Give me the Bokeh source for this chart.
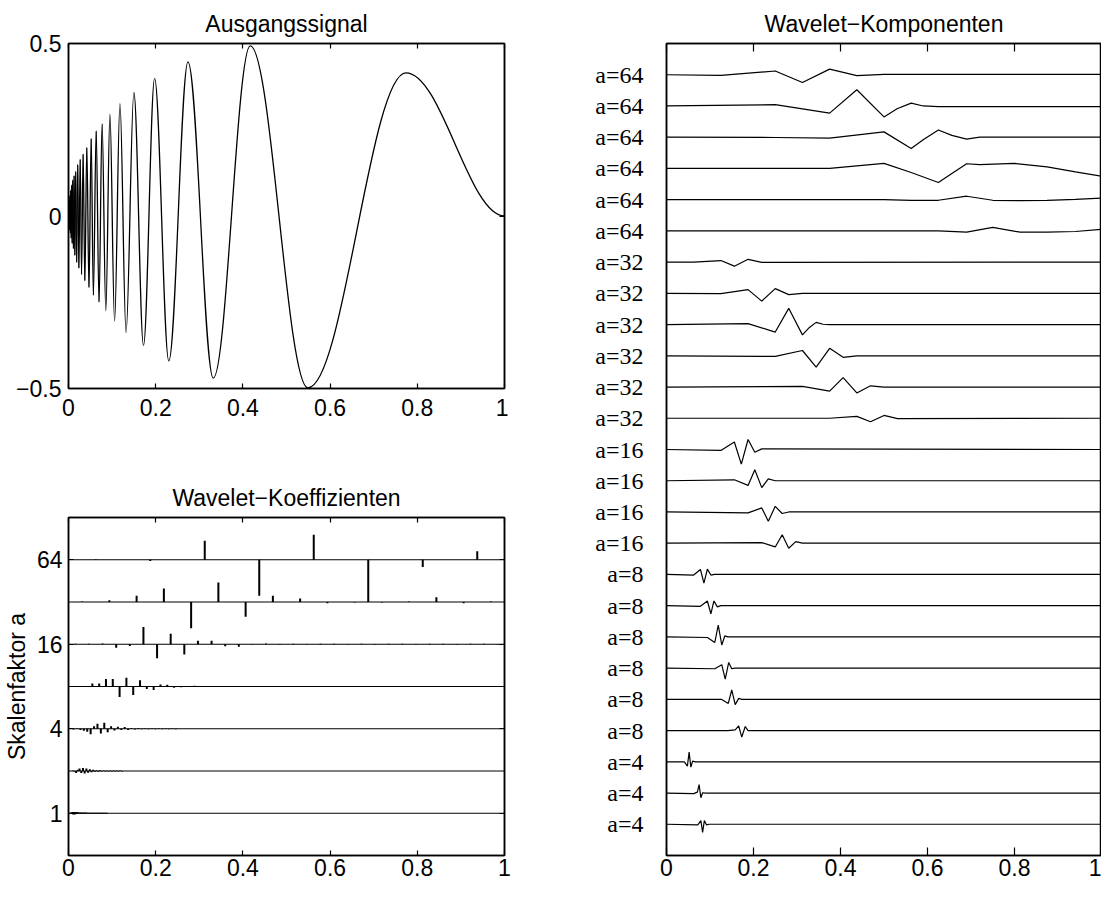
import numpy as np
from bokeh.plotting import figure
from bokeh.models import Range1d, FixedTicker, LinearAxis, ColumnDataSource
from bokeh.layouts import row, column
from bokeh.embed import file_html
from bokeh.resources import INLINE

SANS = "Liberation Sans"
SERIF = "Liberation Serif"
FS = "23px"
FS_SERIF = "24px"

# ---------------- data: Ausgangssignal (extrema of the chirp) ----
chirp_ext_x = [0.0, 0.0009, 0.0014, 0.0020, 0.0027, 0.0034, 0.0042, 0.0051, 0.0061,
               0.0072, 0.0084, 0.0097, 0.0112, 0.0128, 0.0146, 0.0166, 0.0188, 0.0212,
               0.0238, 0.0268, 0.0300, 0.0335, 0.0375, 0.0420, 0.0470, 0.0520, 0.0570,
               0.0635, 0.0700, 0.0770, 0.0856, 0.0950, 0.1057, 0.1180, 0.1320, 0.1500,
               0.1720, 0.1975, 0.2300, 0.2740, 0.3320, 0.4170, 0.5490, 0.7740, 1.0]
chirp_ext_y = [0.0, 0.030, -0.030, 0.045, -0.040, 0.060, -0.050, 0.075, -0.065,
               0.090, -0.080, 0.105, -0.095, 0.118, -0.115, 0.130, -0.135, 0.150,
               -0.152, 0.165, -0.170, 0.180, -0.188, 0.199, -0.208, 0.225, -0.230,
               0.247, -0.250, 0.268, -0.275, 0.295, -0.305, 0.326, -0.338, 0.358,
               -0.375, 0.399, -0.420, 0.447, -0.470, 0.493, -0.498, 0.415, 0.0]

# ---------------- data: Wavelet-Koeffizienten (stem values, in row units) ----------
coef_scales = [1, 2, 4, 8, 16, 32, 64]
coef_counts = [512, 256, 128, 64, 32, 16, 8]
coef_a64 = [0.01, -0.03, 0.45, -0.85, 0.59, -1.00, -0.17, 0.20]
coef_a32 = [0.01, 0.04, 0.15, 0.32, -0.62, 0.46, -0.35, 0.15, 0.08, -0.03, -0.01,
            -0.01, 0.01, 0.11, -0.03, 0.01]
coef_a16 = [0.01, 0.01, 0.02, -0.08, -0.04, 0.41, -0.33, 0.25, -0.24, 0.08, 0.08,
            -0.05, -0.06, -0.01, 0.02, -0.01, 0.01, -0.01, 0.01, 0.01, -0.01, 0.01,
            -0.01, 0.01, 0.01, -0.01, 0.01, 0.01, -0.01, 0.01, 0.01, -0.01]
coef_a8 = [0.0, 0.01, 0.01, 0.07, 0.07, 0.18, 0.18, -0.25, 0.21, -0.20, 0.15, -0.06,
           -0.08, 0.05, 0.04, -0.03, -0.02, 0.01, 0.015, 0.01, 0.01, -0.01, 0.01,
           0.01, -0.01]
coef_a4 = [0.0, -0.02, 0.01, -0.03, -0.05, -0.07, -0.13, 0.06, 0.12, -0.11, 0.14,
           -0.08, 0.06, -0.04, 0.05, -0.03, 0.04, -0.03, 0.02, -0.02, 0.02, -0.01,
           0.01, -0.01, 0.01, -0.01, 0.01, -0.01, 0.01, -0.01, 0.01, -0.01]
coef_a2 = [0.0, 0.0, 0.01, -0.02, -0.05, 0.03, 0.06, -0.05, 0.07, -0.06, 0.06, -0.04,
           0.04, -0.03, 0.03, -0.02, 0.02, -0.02, 0.02, -0.01, 0.01, -0.01, 0.01,
           -0.01, 0.01, -0.01, 0.01, -0.01, 0.01, -0.01, 0.01, -0.01]
coef_a1 = [0.0, 0.0, 0.02, -0.02, 0.03, -0.03, 0.03, -0.03, 0.03, -0.02, 0.03, -0.02,
           0.02, -0.02, 0.02, -0.02, 0.02, -0.02, 0.02, -0.01, 0.02, -0.01, 0.01,
           -0.01, 0.01, -0.01, 0.01, -0.01, 0.01, -0.01, 0.01, -0.01, 0.01, -0.01,
           0.01, -0.01, 0.01, -0.01, 0.01, -0.01, 0.01, -0.01, 0.01, -0.01, 0.01, -0.01]
coef_rows = [coef_a1, coef_a2, coef_a4, coef_a8, coef_a16, coef_a32, coef_a64]
coef_tick_labels = ["1", "4", "16", "64"]

# ---------------- data: Wavelet-Komponenten (polyline nodes, top to bottom) ----------
comp_a64 = [
    ([0, 0.125, 0.25, 0.3125, 0.375, 0.4375, 0.5, 1.0],
     [0, -0.02, 0.12, -0.25, 0.18, -0.03, 0.01, 0.01]),
    ([0, 0.25, 0.375, 0.4375, 0.5, 0.53, 0.5625, 0.59, 0.625, 1.0],
     [0, 0.04, -0.23, 0.52, -0.35, -0.09, 0.09, 0.0, -0.02, -0.02]),
    ([0, 0.25, 0.375, 0.5, 0.5625, 0.59, 0.625, 0.656, 0.69, 0.72, 1.0],
     [0, -0.01, -0.03, 0.17, -0.36, -0.08, 0.23, 0.06, -0.06, 0.0, 0.0]),
    ([0, 0.375, 0.5, 0.5625, 0.625, 0.656, 0.69, 0.72, 0.8, 0.875, 0.94, 1.0],
     [0, 0, 0.16, -0.13, -0.45, -0.16, 0.15, 0.12, 0.16, 0.05, -0.11, -0.25]),
    ([0, 0.5, 0.5625, 0.625, 0.69, 0.75, 0.8125, 0.875, 0.94, 1.0],
     [0, 0, -0.02, -0.02, 0.11, -0.02, -0.03, -0.02, 0.01, 0.05]),
    ([0, 0.625, 0.69, 0.75, 0.8125, 0.875, 0.94, 1.0],
     [0, 0, -0.04, 0.11, -0.04, -0.04, -0.02, 0.05]),
]
comp_a32 = [
    ([0, 0.0625, 0.125, 0.156, 0.1875, 0.219, 1.0],
     [0, 0, 0.05, -0.13, 0.09, -0.01, 0]),
    ([0, 0.125, 0.1875, 0.219, 0.25, 0.281, 0.3125, 1.0],
     [0, -0.01, 0.12, -0.25, 0.15, -0.04, 0, 0]),
    ([0, 0.1875, 0.25, 0.281, 0.3125, 0.328, 0.344, 0.36, 0.375, 1.0],
     [0, 0.03, -0.24, 0.52, -0.33, -0.1, 0.07, 0.01, 0, 0]),
    ([0, 0.25, 0.3125, 0.344, 0.375, 0.406, 0.4375, 1.0],
     [0, -0.02, 0.17, -0.36, 0.24, -0.05, 0, 0]),
    ([0, 0.3125, 0.375, 0.406, 0.4375, 0.469, 0.5, 1.0],
     [0, 0.02, -0.13, 0.3, -0.19, 0.04, 0, 0]),
    ([0, 0.375, 0.4375, 0.469, 0.5, 0.531, 1.0],
     [0, 0, 0.06, -0.11, 0.09, -0.01, 0]),
]
comp_a16 = [
    ([0, 0.125, 0.156, 0.172, 0.1875, 0.203, 0.219, 1.0],
     [0, -0.03, 0.24, -0.47, 0.32, -0.09, 0.02, 0]),
    ([0, 0.156, 0.1875, 0.203, 0.219, 0.234, 0.25, 1.0],
     [0, 0.03, -0.15, 0.35, -0.22, 0.06, 0, 0]),
    ([0, 0.1875, 0.219, 0.234, 0.25, 0.266, 0.281, 1.0],
     [0, -0.03, 0.13, -0.3, 0.18, -0.05, 0, 0]),
    ([0, 0.219, 0.25, 0.266, 0.281, 0.297, 0.3125, 1.0],
     [0, 0.02, -0.12, 0.27, -0.16, 0.05, 0, 0]),
]
comp_a8 = [
    ([0, 0.0625, 0.078, 0.086, 0.094, 0.102, 0.11, 1.0],
     [0, -0.02, 0.16, -0.28, 0.17, -0.02, 0, 0]),
    ([0, 0.078, 0.094, 0.102, 0.109, 0.117, 0.125, 1.0],
     [0, -0.02, 0.15, -0.26, 0.15, -0.04, 0, 0]),
    ([0, 0.094, 0.111, 0.119, 0.127, 0.134, 0.141, 1.0],
     [0, -0.02, -0.18, 0.38, -0.26, 0.03, 0, 0]),
    ([0, 0.111, 0.127, 0.135, 0.143, 0.15, 0.157, 1.0],
     [0, -0.02, 0.11, -0.35, 0.18, -0.02, 0, 0]),
    ([0, 0.126, 0.142, 0.15, 0.158, 0.166, 0.173, 1.0],
     [0, 0, -0.13, 0.3, -0.17, 0.03, 0, 0]),
    ([0, 0.141, 0.158, 0.166, 0.173, 0.181, 0.1875, 1.0],
     [0, 0, 0.02, 0.15, -0.21, 0.13, 0, 0]),
]
comp_a4 = [
    ([0, 0.041, 0.048, 0.052, 0.056, 0.06, 0.066, 1.0],
     [0, 0, -0.14, 0.31, -0.17, 0.02, 0, 0]),
    ([0, 0.0625, 0.071, 0.075, 0.079, 0.083, 0.09, 1.0],
     [0, -0.02, 0.03, 0.27, -0.15, 0.01, 0, 0]),
    ([0, 0.072, 0.079, 0.083, 0.087, 0.092, 0.098, 1.0],
     [0, -0.02, 0.12, -0.26, 0.12, -0.02, 0, 0]),
]
comp_groups = [("a=64", comp_a64), ("a=32", comp_a32), ("a=16", comp_a16),
               ("a=8", comp_a8), ("a=4", comp_a4)]

x_ticks = [0, 0.2, 0.4, 0.6, 0.8, 1]
x_labels = {0: "0", 0.2: "0.2", 0.4: "0.4", 0.6: "0.6", 0.8: "0.8", 1: "1"}


def style_axis(ax, ticks, overrides=None, tick_in=5, labels=True, font=SANS,
               size=FS, standoff=8):
    ax.ticker = FixedTicker(ticks=ticks)
    ax.major_tick_in = tick_in
    ax.major_tick_out = 0
    ax.minor_tick_line_color = None
    ax.major_tick_line_color = "black"
    ax.major_tick_line_width = 1.2
    ax.axis_line_color = "black"
    ax.axis_line_width = 1.5
    ax.major_label_standoff = standoff
    if overrides is not None:
        ax.major_label_overrides = overrides
    if labels:
        ax.major_label_text_font = font
        ax.major_label_text_font_size = size
        ax.major_label_text_color = "black"
    else:
        # mirrored tick marks only: labels are not drawn at all
        ax.major_label_text_font_size = "1px"
        ax.major_label_text_color = None
        ax.major_label_standoff = 0


def base_fig(title, fw, fh, yr, mbl, mbr, mbt, mbb):
    p = figure(frame_width=fw, frame_height=fh, x_range=Range1d(0, 1), y_range=yr,
               output_backend="svg", toolbar_location=None, title=title,
               min_border_left=mbl, min_border_right=mbr, min_border_top=mbt,
               min_border_bottom=mbb)
    p.title.text_font = SANS
    p.title.text_font_size = FS
    p.title.text_font_style = "normal"
    p.title.align = "center"
    p.title.standoff = 14
    p.title.text_color = "black"
    p.xgrid.visible = False
    p.ygrid.visible = False
    p.outline_line_color = "black"
    p.outline_line_width = 1.5
    p.background_fill_color = "white"
    p.border_fill_color = "white"
    return p


# ---------------- panel 1: Ausgangssignal ----------------
p1 = base_fig("Ausgangssignal", 436, 345, Range1d(-0.5, 0.5), 62, 10, 43, 50)
style_axis(p1.xaxis[0], x_ticks, x_labels, standoff=10)
style_axis(p1.yaxis[0], [-0.5, 0, 0.5], {-0.5: "\u22120.5", 0: "0", 0.5: "0.5"}, standoff=7)
ax = LinearAxis(); style_axis(ax, x_ticks, labels=False); p1.add_layout(ax, "above")
ax = LinearAxis(); style_axis(ax, [-0.5, 0, 0.5], labels=False); p1.add_layout(ax, "right")

ex = np.array(chirp_ext_x); ey = np.array(chirp_ext_y)
k = 0.3634
x0, x1 = ex[:-1], ex[1:]
y0, y1 = ey[:-1], ey[1:]
dx = x1 - x0
bez = ColumnDataSource(dict(x0=x0, y0=y0, x1=x1, y1=y1,
                            cx0=x0 + k * dx, cy0=y0, cx1=x1 - k * dx, cy1=y1))
p1.bezier(x0="x0", y0="y0", x1="x1", y1="y1", cx0="cx0", cy0="cy0", cx1="cx1", cy1="cy1",
          source=bez, line_color="black", line_width=1.3)

# ---------------- panel 2: Wavelet-Koeffizienten ----------------
p2 = base_fig("Wavelet\u2212Koeffizienten", 436, 338, Range1d(0, 8), 62, 10, 79, 29)
style_axis(p2.xaxis[0], x_ticks, x_labels, standoff=3)
style_axis(p2.yaxis[0], [1, 3, 5, 7], {1: coef_tick_labels[0], 3: coef_tick_labels[1],
                                       5: coef_tick_labels[2], 7: coef_tick_labels[3]}, standoff=6)
p2.yaxis[0].axis_label = "Skalenfaktor a"
p2.yaxis[0].axis_label_text_font = SANS
p2.yaxis[0].axis_label_text_font_size = FS
p2.yaxis[0].axis_label_text_font_style = "normal"
p2.yaxis[0].axis_label_text_color = "black"
p2.yaxis[0].axis_label_standoff = 4
ax = LinearAxis(); style_axis(ax, x_ticks, labels=False); p2.add_layout(ax, "above")
ax = LinearAxis(); style_axis(ax, [1, 3, 5, 7], labels=False); p2.add_layout(ax, "right")

rows_y = np.arange(1, len(coef_scales) + 1)
p2.segment(x0=np.zeros(len(rows_y)), y0=rows_y, x1=np.ones(len(rows_y)), y1=rows_y,
           line_color="black", line_width=1.2)
sx, sy0, sy1 = [], [], []
for r, (vals, n) in enumerate(zip(coef_rows, coef_counts), start=1):
    for i, v in enumerate(vals):
        sx.append((2 * i + 1) / (2 * n)); sy0.append(r); sy1.append(r + v)
p2.segment(x0=sx, y0=sy0, x1=sx, y1=sy1, line_color="black", line_width=2)

# ---------------- panel 3: Wavelet-Komponenten ----------------
p3 = base_fig("Wavelet\u2212Komponenten", 435, 812, Range1d(0, 26), 152, 0, 43, 29)
style_axis(p3.xaxis[0], x_ticks, x_labels, tick_in=8, standoff=3)
ax = LinearAxis(); style_axis(ax, x_ticks, tick_in=8, labels=False); p3.add_layout(ax, "above")

xs, ys, ticks, labels = [], [], [], {}
n_rows = sum(len(g) for _, g in comp_groups)
r = n_rows
for lab, group in comp_groups:
    for cx, cy in group:
        xs.append(list(cx)); ys.append([r + v for v in cy])
        ticks.append(r); labels[r] = lab
        r -= 1
style_axis(p3.yaxis[0], sorted(ticks), labels, tick_in=0, font=SERIF, size=FS_SERIF,
           standoff=23)
p3.multi_line(xs=xs, ys=ys, line_color="black", line_width=1.2)

layout = row(column(p1, p2), p3)
open("out.html", "w").write(file_html(layout, INLINE, "Wavelet"))
